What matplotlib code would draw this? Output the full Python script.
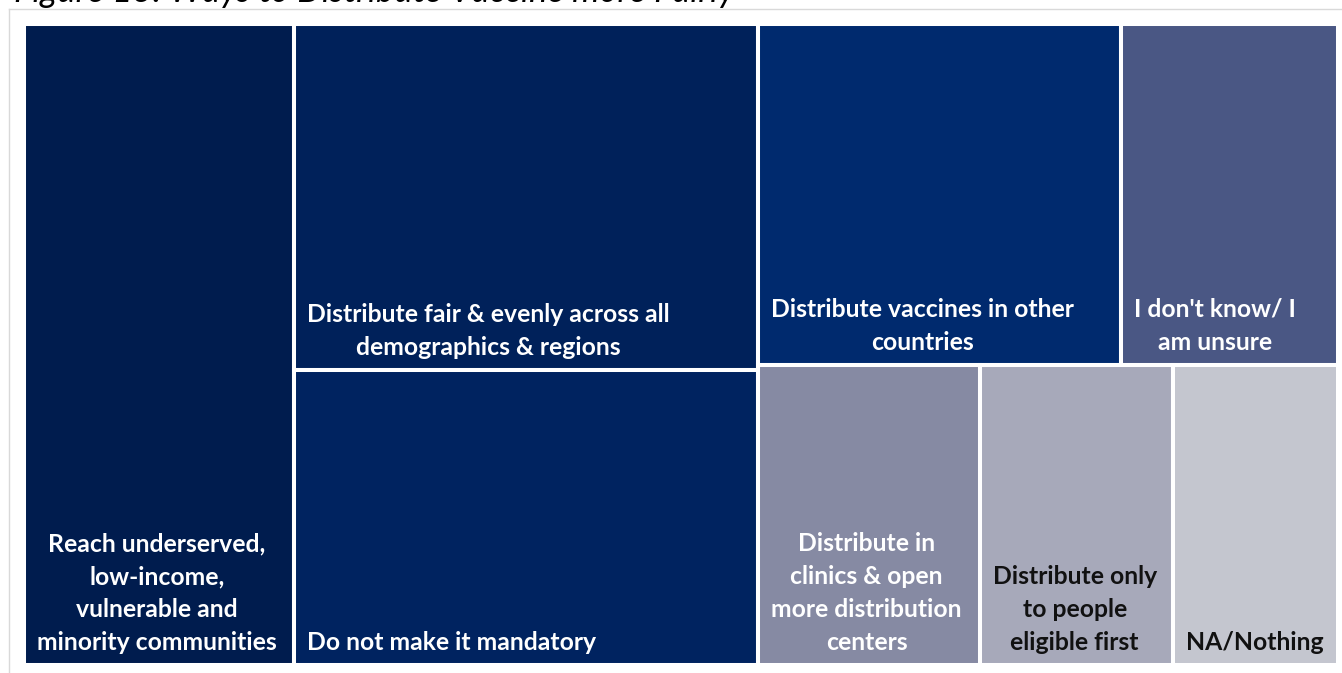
import matplotlib
matplotlib.use("Agg")
import matplotlib.pyplot as plt
from matplotlib.patches import Rectangle
from matplotlib.lines import Line2D

plt.rcParams['font.family'] = ['Lato', 'DejaVu Sans']

# share of responses per answer (percent)
labels = [
    "Reach underserved,\nlow-income,\nvulnerable and\nminority communities",
    "Distribute fair & evenly across all\ndemographics & regions",
    "Do not make it mandatory",
    "Distribute vaccines in other\ncountries",
    "I don't know/ I\nam unsure",
    "Distribute in\nclinics & open\nmore distribution\ncenters",
    "Distribute only\nto people\neligible first",
    "NA/Nothing",
]
values = [20.6, 19.1, 16.3, 14.7, 8.8, 7.9, 6.9, 5.9]
colors = ['#001c4e', '#00215a', '#002360', '#002a6e', '#4a5784',
          '#868aa3', '#a7a9ba', '#c4c6cf']
text_colors = ['white'] * 6 + ['#111111', '#111111']

# nesting of the treemap: columns, each a list of rows, each a list of items
groups = [
    [[0]],
    [[1], [2]],
    [[3, 4], [5, 6, 7]],
]

W, H = 1314, 641
fig = plt.figure(figsize=(13.42, 6.73), dpi=100)
ax = fig.add_axes([24 / 1342, 8 / 673, W / 1342, H / 673])
ax.set_xlim(0, 1)
ax.set_ylim(1, 0)
ax.axis('off')

total = sum(values)
x0 = 0.0
for col in groups:
    col_sum = sum(values[i] for row in col for i in row)
    cw = col_sum / total
    y0 = 0.0
    for row in col:
        row_sum = sum(values[i] for i in row)
        rh = row_sum / col_sum
        xx = x0
        for i in row:
            w = cw * values[i] / row_sum
            ax.add_patch(Rectangle((xx, y0), w, rh, facecolor=colors[i],
                                   edgecolor='white', linewidth=2.9,
                                   clip_on=False))
            ax.annotate(labels[i], (xx, y0 + rh), xytext=(13, 11),
                        textcoords='offset pixels', ha='left', va='bottom',
                        multialignment='center', color=text_colors[i],
                        fontsize=17.8, fontweight='bold', linespacing=1.52)
            xx += w
        y0 += rh
    x0 += cw

# light frame around the chart area
fig.add_artist(Line2D([9 / 1342, 9 / 1342], [0, 1 - 9 / 673],
                      transform=fig.transFigure, color='#d9d9d9', lw=1))
fig.add_artist(Line2D([9 / 1342, 1], [1 - 9 / 673, 1 - 9 / 673],
                      transform=fig.transFigure, color='#d9d9d9', lw=1))

fig.text(735 / 1342, 1 - 1.5 / 673,
         "Figure 13: Ways to Distribute Vaccine more Fairly",
         ha='right', va='baseline', fontsize=25, style='italic',
         color='black')

fig.savefig("out.png", dpi=100, facecolor='white')
